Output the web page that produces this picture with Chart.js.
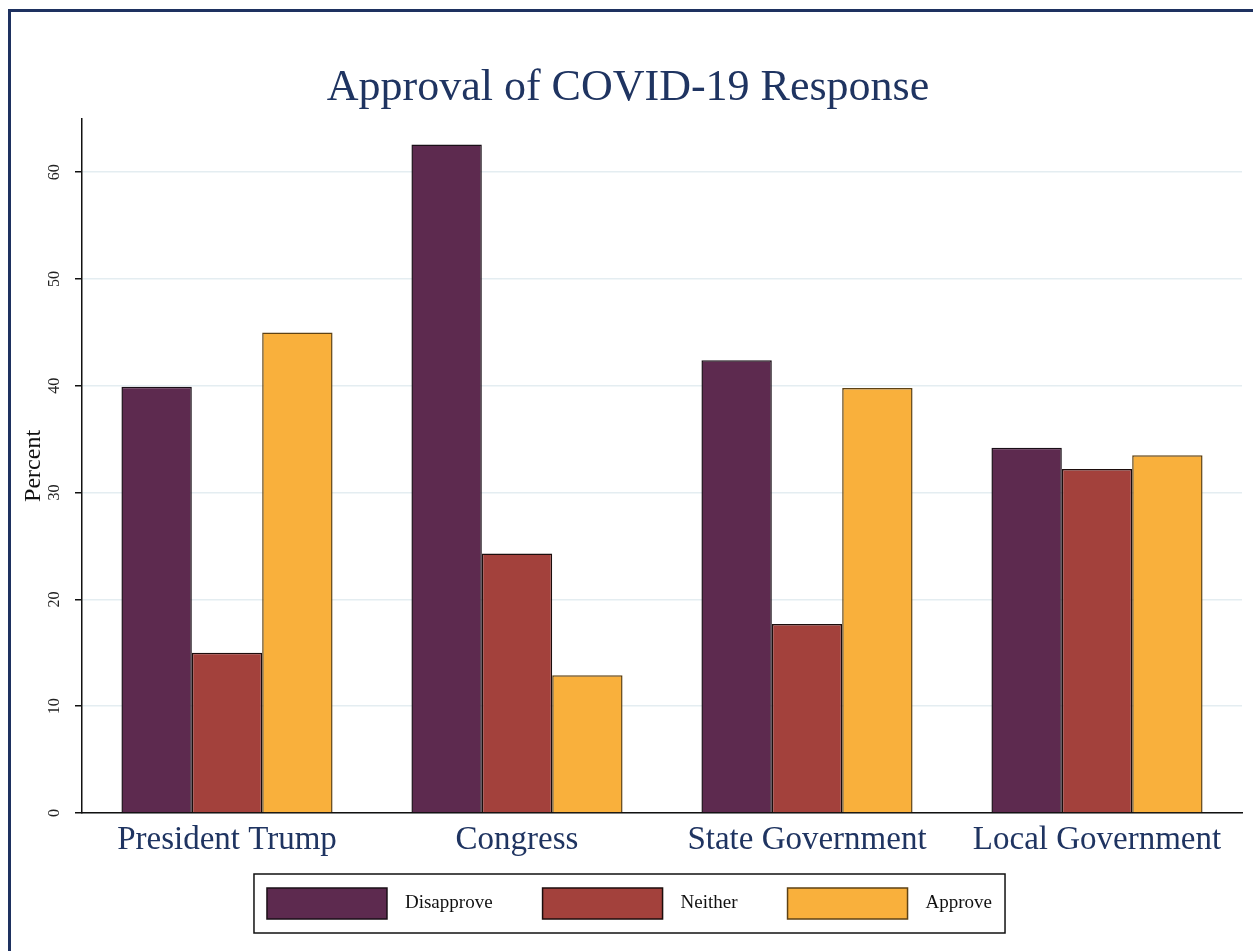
<!DOCTYPE html>
<html>
<head>
<meta charset="utf-8">
<script src="https://cdn.jsdelivr.net/npm/chart.js@4"></script>
<style>
  html, body { margin: 0; padding: 0; background: #ffffff; }
  #wrap { position: relative; width: 1253px; height: 951px; overflow: hidden; background: #fff; }
  #frame { position: absolute; left: 8px; top: 9px; width: 1400px; height: 1100px; border: 3px solid #1e3160; box-sizing: border-box; }
  #c { position: absolute; left: 0; top: 0; }
</style>
</head>
<body>
<div id="wrap">
  <div id="frame"></div>
  <canvas id="c" width="1253" height="951"></canvas>
</div>
<script>
const categories = ['President Trump', 'Congress', 'State Government', 'Local Government'];
const seriesNames = ['Disapprove', 'Neither', 'Approve'];
const disapprove = [39.9, 62.6, 42.4, 34.2];
const neither = [15.0, 24.3, 17.7, 32.2];
const approve = [45.0, 12.9, 39.8, 33.5];
const yTicks = [0, 10, 20, 30, 40, 50, 60];
const titleText = 'Approval of COVID-19 Response';
const yTitle = 'Percent';

const fillColors = ['#5d2a4f', '#a3413c', '#f9b03c'];
const edgeColors = ['#1a0f17', '#1c0d0c', '#5e4214'];
const SERIF = '"Liberation Serif", "DejaVu Serif", serif';
const NAVY = '#1f3461';

const legendBox = {
  id: 'legendBox',
  afterDraw(chart) {
    const ctx = chart.ctx;
    const ds = chart.data.datasets;
    ctx.save();
    ctx.font = '19px ' + SERIF;
    const swW = 120, swH = 31, gap = 18, itemGap = 50, padX = 13;
    const widths = ds.map(d => swW + gap + ctx.measureText(d.label).width);
    const total = widths.reduce((a, b) => a + b, 0) + itemGap * (ds.length - 1);
    const cx = 629.5;
    let x = cx - total / 2;
    const boxL = x - padX, boxR = x + total + padX;
    const boxT = 874, boxB = 933;
    const midY = (boxT + boxB) / 2;
    ctx.fillStyle = '#ffffff';
    ctx.fillRect(boxL, boxT, boxR - boxL, boxB - boxT);
    ctx.strokeStyle = '#111111';
    ctx.lineWidth = 1.5;
    ctx.strokeRect(boxL, boxT, boxR - boxL, boxB - boxT);
    ds.forEach((d, i) => {
      ctx.fillStyle = d.backgroundColor;
      ctx.fillRect(x, midY - swH / 2, swW, swH);
      ctx.strokeStyle = d.borderColor;
      ctx.lineWidth = 1.5;
      ctx.strokeRect(x, midY - swH / 2, swW, swH);
      ctx.fillStyle = '#111111';
      ctx.textAlign = 'left';
      ctx.textBaseline = 'middle';
      ctx.fillText(d.label, x + swW + gap, midY);
      x += widths[i] + itemGap;
    });
    ctx.restore();
  }
};

const seriesValues = [disapprove, neither, approve];

new Chart(document.getElementById('c'), {
  type: 'bar',
  data: {
    labels: categories,
    datasets: seriesNames.map((name, i) => ({
      label: name,
      data: seriesValues[i],
      backgroundColor: fillColors[i],
      borderColor: edgeColors[i],
      borderWidth: 1.5,
      borderSkipped: 'bottom',
      categoryPercentage: 0.728,
      barPercentage: 1.0
    }))
  },
  options: {
    responsive: false,
    animation: false,
    devicePixelRatio: 1,
    layout: { padding: { left: 14, right: 11, top: 0, bottom: 83 } },
    plugins: {
      legend: { display: false },
      tooltip: { enabled: false },
      title: {
        display: true,
        text: titleText,
        color: NAVY,
        font: { family: SERIF, size: 44, weight: 'normal' },
        padding: { top: 62, bottom: 4 }
      }
    },
    scales: {
      x: {
        grid: { display: false, drawTicks: false },
        border: { display: true, color: '#111111', width: 1.5 },
        ticks: {
          color: NAVY,
          font: { family: SERIF, size: 33 },
          padding: 8,
          maxRotation: 0,
          minRotation: 0
        },
        afterFit(scale) { scale.height = 55; }
      },
      y: {
        min: 0,
        max: 65,
        afterBuildTicks(scale) { scale.ticks = yTicks.map(v => ({ value: v })); },
        grid: {
          color: '#e4edf1',
          lineWidth: 1.5,
          drawTicks: true,
          tickLength: 7,
          tickColor: '#111111',
          tickWidth: 1.5
        },
        border: { display: true, color: '#111111', width: 1.5 },
        ticks: {
          color: '#222222',
          font: { family: SERIF, size: 16 },
          minRotation: 90,
          maxRotation: 90,
          crossAlign: 'center',
          padding: 12
        },
        title: {
          display: true,
          text: yTitle,
          color: '#111111',
          font: { family: SERIF, size: 24 },
          padding: { top: 5, bottom: 0 }
        },
        afterFit(scale) { scale.width = 68; }
      }
    }
  },
  plugins: [legendBox]
});
</script>
</body>
</html>
